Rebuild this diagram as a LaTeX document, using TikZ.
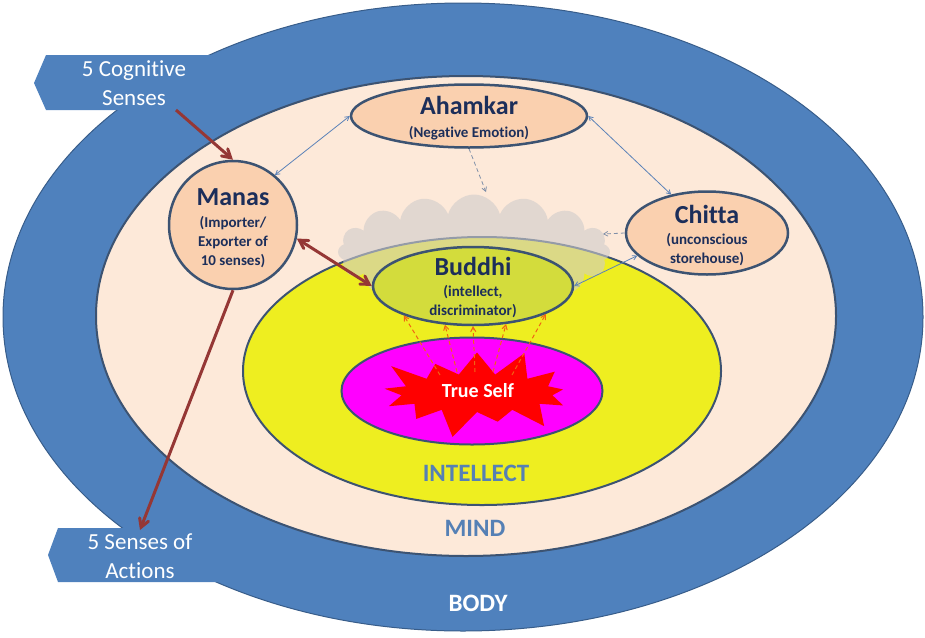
\documentclass[tikz,border=0pt]{standalone}
\usepackage{fontspec}
\setmainfont{Carlito}[Ligatures=NoCommon]
\usetikzlibrary{arrows,shapes.geometric,shapes.symbols,positioning}

\definecolor{bodyblue}{HTML}{4F81BD}
\definecolor{bodyedge}{HTML}{385D8A}
\definecolor{mindfill}{HTML}{FDE9D9}
\definecolor{slate}{HTML}{3C5372}
\definecolor{organfill}{HTML}{FAD0AF}
\definecolor{intyellow}{HTML}{EEEE20}
\definecolor{buddhifill}{HTML}{D3DC3C}
\definecolor{cloudgray}{HTML}{CFCBCB}
\definecolor{selfpink}{HTML}{FF00FF}
\definecolor{burstred}{HTML}{FF0000}
\definecolor{navy}{HTML}{1C2E5A}
\definecolor{zoneblue}{HTML}{5580B5}
\definecolor{darkred}{HTML}{953735}
\definecolor{linkblue}{HTML}{5B82B8}
\definecolor{hintgray}{HTML}{7F8FA8}
\definecolor{rayorange}{HTML}{F06414}

\begin{document}
\begin{tikzpicture}[x=1pt,y=-1pt]

	\tikzset{zone/.style = {ellipse,draw=slate,line width=2pt,inner sep=0pt}}
	\tikzset{organ/.style = {zone,fill=organfill,line width=2.5pt}}
	\tikzset{organtitle/.style = {text=navy,font=\bfseries\fontsize{26}{30}\selectfont}}
	\tikzset{organnote/.style = {text=navy,align=center,font=\bfseries\fontsize{15}{19}\selectfont}}
	\tikzset{sense/.style = {text=white,align=center,font=\fontsize{23}{29}\selectfont}}
	\tikzset{zonelabel/.style = {text=zoneblue,font=\bfseries\fontsize{25}{30}\selectfont}}
	\tikzset{flow/.style = {draw=darkred,line width=3pt,-angle 60}}
	\tikzset{link/.style = {draw=linkblue,line width=0.8pt,angle 60-angle 60}}
	\tikzset{hint/.style = {draw=hintgray,line width=0.8pt,dash pattern=on 4pt off 3pt,-angle 60}}
	\tikzset{ray/.style = {draw=rayorange,line width=1pt,dash pattern=on 4pt off 3pt,-angle 60}}

	\useasboundingbox (0,0) rectangle (925,637);

	% body, mind, intellect
	\node[zone,draw=bodyedge,line width=1pt,fill=bodyblue,minimum width=920pt,minimum height=628pt] (body) at (463,317) {};
	\fill[bodyblue] (46,55) -- (34,83) -- (46,110) -- (240,110) -- (240,55) -- cycle;
	\fill[bodyblue] (58,528) -- (48,555) -- (58,582) -- (240,582) -- (240,528) -- cycle;
	\node[zone,fill=mindfill,minimum width=740pt,minimum height=480pt] (mind) at (466,316) {};
	\node[zone,fill=intyellow,minimum width=478pt,minimum height=268pt] (intellect) at (482,371) {};
	\node[zone,fill=selfpink,minimum width=261pt,minimum height=107pt] (self) at (472,391) {};
	\node[starburst,fill=burstred,starburst points=13,starburst point height=30pt,minimum width=212pt,minimum height=98pt] (burst) at (477,393) {};
	\node[cloud,cloud puffs=16,aspect=2.4,fill=cloudgray,fill opacity=0.6,minimum width=272pt,minimum height=115pt,inner sep=0pt] (cloud) at (474,252) {};

	% organs of the mind
	\node[organ,fill=buddhifill,minimum width=200pt,minimum height=78pt] (buddhi) at (473,286) {};
	\node[organ,minimum width=236pt,minimum height=63pt] (ahamkar) at (469,116) {};
	\node[organ,circle,minimum size=128pt] (manas) at (233,225) {};
	\node[organ,minimum width=162pt,minimum height=83pt] (chitta) at (707,233) {};

	\node[organtitle] (ahamkar-t) at (469,105) {Ahamkar};
	\node[organnote] (ahamkar-n) at (469,133) {(Negative Emotion)};
	\node[organtitle] (manas-t) at (233,197) {Manas};
	\node[organnote] (manas-n) at (233,242) {(Importer/\\Exporter of\\10 senses)};
	\node[organtitle] (chitta-t) at (707,214) {Chitta};
	\node[organnote] (chitta-n) at (707,250) {(unconscious\\storehouse)};
	\node[organtitle] (buddhi-t) at (473,266) {Buddhi};
	\node[organnote] (buddhi-n) at (473,302) {(intellect,\\discriminator)};
	\node[text=white,font=\bfseries\fontsize{20}{24}\selectfont] (self-t) at (478,391) {True Self};

	\node[sense] (cog) at (134,83) {5 Cognitive\\Senses};
	\node[sense] (act) at (140,556) {5 Senses of\\Actions};

	\node[zonelabel] (intellect-t) at (476,473) {INTELLECT};
	\node[zonelabel] (mind-t) at (475,528) {MIND};
	\node[zonelabel,text=white] (body-t) at (478,603) {BODY};

	% connectors
	\coordinate (cogout) at (176,110);
	\coordinate (cloudtop) at (486,192);
	\coordinate (cloudside) at (603,234);

	\draw[flow] (cogout) -- (manas.north);
	\draw[flow] (manas.south) -- (act.north);
	\draw[flow,angle 60-angle 60] (manas.-12) -- (buddhi.west);

	\draw[link] (ahamkar.west) -- (manas.50);
	\draw[link] (ahamkar.east) -- (chitta.133);
	\draw[link] (chitta.198) -- (buddhi.east);

	\draw[hint] (ahamkar.south) -- (cloudtop);
	\draw[hint] (chitta.west) -- (cloudside);

	\draw[ray] ([xshift=-37pt,yshift=18pt]burst.center) -- (buddhi.203);
	\draw[ray] ([xshift=-20pt,yshift=21pt]burst.center) -- (buddhi.234);
	\draw[ray] ([xshift=-2pt,yshift=21pt]burst.center) -- (buddhi.south);
	\draw[ray] ([xshift=16pt,yshift=21pt]burst.center) -- (buddhi.311);
	\draw[ray] ([xshift=35pt,yshift=18pt]burst.center) -- (buddhi.339);
\end{tikzpicture}
\end{document}
